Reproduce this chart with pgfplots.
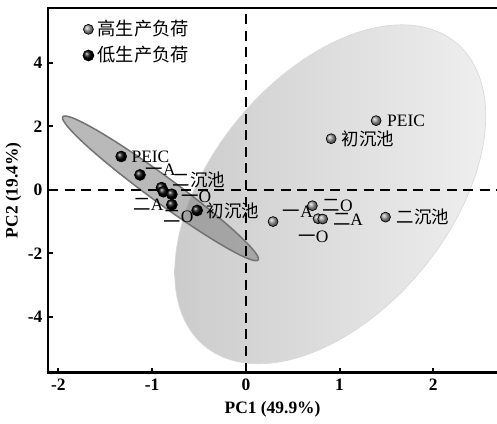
\documentclass[border=0pt]{standalone}
\usepackage{pgfplots}
\pgfplotsset{compat=1.18}
\usepackage{fontspec}
\setmainfont{Liberation Serif}
\newfontfamily\cjk{Noto Sans CJK SC}
\begin{document}
\begin{tikzpicture}
\begin{axis}[
 name=ax,
 scale only axis, width=270.4pt, height=219.7pt,
 xmin=-2.11, xmax=2.68, ymin=-5.76, ymax=5.73,
 xtick={-2,-1,0,1,2}, ytick={-4,-2,0,2,4},
 tick pos=left, tick align=inside,
 major tick length=3pt,
 every tick/.style={black, line width=1.2pt},
 axis line style={draw=none},
 ticklabel style={font=\bfseries\fontsize{10.5}{12}\selectfont},
 /pgf/number format/assume math mode=true,
 xlabel={\textbf{PC1 (49.9\%)}}, ylabel={\textbf{PC2 (19.4\%)}},
 label style={font=\fontsize{10.5}{12}\selectfont},
 ylabel shift=-3pt,
 clip=false,
 legend style={draw=none, fill=none, at={(0.065,0.985)}, anchor=north west,
   font=\cjk\fontsize{11}{13}\selectfont, row sep=1pt, /tikz/every even column/.append style={column sep=3pt}},
 legend cell align=left,
]
% confidence ellipses
\addplot[forget plot, draw=gray!30, line width=0.4pt, left color=gray!40, right color=gray!13,
  domain=0:360, samples=145, variable=\t]
  ({0.90+0.765*cos(t)+1.473*sin(t)}, {-0.14+5.34*cos(t)});
\addplot[forget plot, draw=gray!90!black, line width=0.9pt, fill=gray, fill opacity=0.55,
  domain=0:360, samples=145, variable=\t]
  ({-0.911+1.042*cos(t)+0.082*sin(t)}, {0.047-2.255*cos(t)+0.331*sin(t)});
% dashed zero lines
\draw[black, line width=1.2pt, dash pattern=on 6pt off 4pt] (axis cs:-2.11,0) -- (axis cs:2.68,0);
\draw[black, line width=1.2pt, dash pattern=on 6pt off 4pt] (axis cs:0,-5.76) -- (axis cs:0,5.73);
% frame
\draw[line width=1.5pt] (rel axis cs:1,1) -- (rel axis cs:0,1) -- (rel axis cs:0,0) -- (rel axis cs:1,0);
% high production load
\addplot[only marks, mark=ball, mark size=3pt, ball color=gray!80] coordinates {
 (1.39,2.18) (0.91,1.61) (0.29,-1.00) (0.71,-0.50) (0.77,-0.91) (0.82,-0.92) (1.49,-0.86)};
\addlegendentry{高生产负荷}
% low production load
\addplot[only marks, mark=ball, mark size=3.3pt, ball color=black] coordinates {
 (-1.33,1.05) (-1.13,0.47) (-0.90,0.07) (-0.88,-0.06) (-0.79,-0.14) (-0.79,-0.47) (-0.52,-0.65)};
\addlegendentry{低生产负荷}
% labels
\begin{scope}[every node/.style={font=\fontsize{10.5}{12}\selectfont, inner sep=0.5pt}]
\node[anchor=west] at (axis cs:-1.232,1.05) {PEIC};
\node at (axis cs:-0.91,0.63) {{\cjk 一}A};
\node at (axis cs:-0.50,0.31) {\cjk 二沉池};
\node at (axis cs:-1.04,-0.47) {{\cjk 二}A};
\node at (axis cs:-0.53,-0.22) {{\cjk 一}O};
\node at (axis cs:-0.72,-0.85) {{\cjk 二}O};
\node at (axis cs:-0.14,-0.66) {\cjk 初沉池};
\node[anchor=west] at (axis cs:1.496,2.18) {PEIC};
\node[anchor=west] at (axis cs:1.01,1.61) {\cjk 初沉池};
\node at (axis cs:0.556,-0.68) {{\cjk 一}A};
\node at (axis cs:0.98,-0.50) {{\cjk 二}O};
\node at (axis cs:1.09,-0.945) {{\cjk 二}A};
\node at (axis cs:0.72,-1.47) {{\cjk 一}O};
\node[anchor=west] at (axis cs:1.60,-0.85) {\cjk 二沉池};
\end{scope}
\end{axis}
\pgfresetboundingbox
\path (ax.outer south west) rectangle ([yshift=4.8pt]ax.north east);
\end{tikzpicture}
\end{document}
